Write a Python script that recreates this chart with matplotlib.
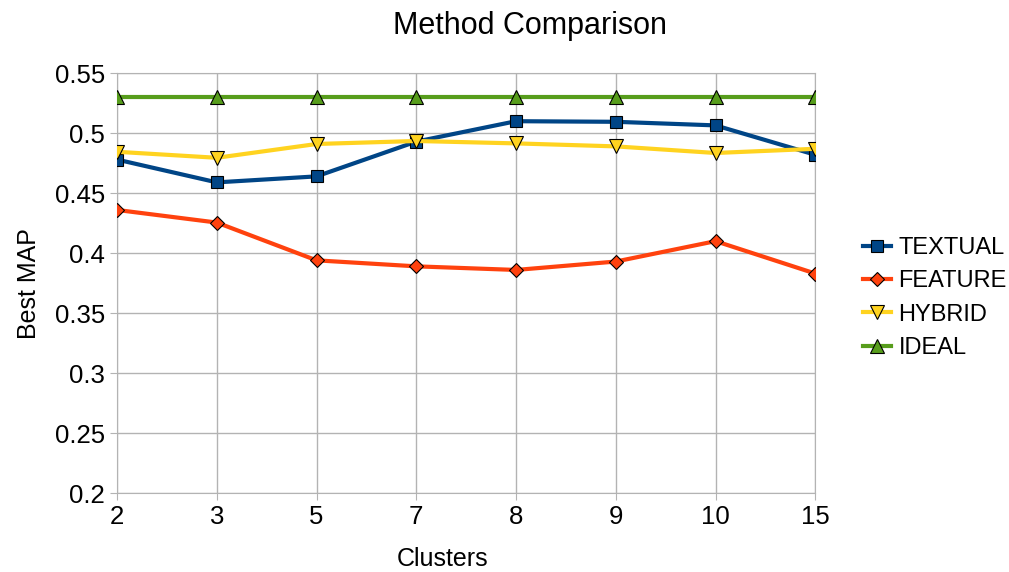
import matplotlib.pyplot as plt

plt.rcParams['font.family'] = ['Liberation Sans', 'DejaVu Sans']

# Data
clusters = ['2', '3', '5', '7', '8', '9', '10', '15']
textual = [0.478, 0.459, 0.464, 0.493, 0.510, 0.5095, 0.5065, 0.482]
feature = [0.436, 0.4255, 0.394, 0.389, 0.386, 0.393, 0.410, 0.383]
hybrid = [0.4845, 0.4795, 0.491, 0.4935, 0.4915, 0.489, 0.4835, 0.487]
ideal = [0.53, 0.53, 0.53, 0.53, 0.53, 0.53, 0.53, 0.53]

x = list(range(len(clusters)))

fig = plt.figure(figsize=(10.09, 5.72), dpi=100)
ax = fig.add_axes([0.116, 0.138, 0.692, 0.734])

ax.plot(x, textual, color='#004586', lw=3, marker='s', ms=9, mec='black', mew=0.8, label='TEXTUAL', zorder=3)
ax.plot(x, feature, color='#ff420e', lw=3, marker='D', ms=7, mec='black', mew=0.8, label='FEATURE', zorder=3)
ax.plot(x, hybrid, color='#ffd320', lw=3, marker='v', ms=9.5, mec='black', mew=0.8, label='HYBRID', zorder=3)
ax.plot(x, ideal, color='#579d1c', lw=3, marker='^', ms=9.5, mec='black', mew=0.8, label='IDEAL', zorder=3)

ax.set_xlim(0, len(clusters) - 1)
ax.set_ylim(0.2, 0.55)
ax.set_xticks(x)
ax.set_xticklabels(clusters)
ax.set_yticks([0.2, 0.25, 0.3, 0.35, 0.4, 0.45, 0.5, 0.55])
ax.set_yticklabels(['0.2', '0.25', '0.3', '0.35', '0.4', '0.45', '0.5', '0.55'])

ax.grid(True, color='#b3b3b3', lw=1)
ax.set_axisbelow(True)
for s in ax.spines.values():
    s.set_color('#b3b3b3')
ax.tick_params(colors='#b3b3b3', labelcolor='black', labelsize=18.5, length=5)

# title is centred over the whole chart (plot + legend), not just the axes
fig.text(0.525, 0.955, 'Method Comparison', fontsize=22, ha='center', va='center')
ax.set_xlabel('Clusters', fontsize=18, va='center')
ax.xaxis.set_label_coords(0.466, -0.158)
ax.set_ylabel('Best MAP', fontsize=18, labelpad=10)

ax.legend(loc='center left', bbox_to_anchor=(1.055, 0.465), frameon=False, fontsize=17,
          handlelength=1.2, handletextpad=0.3, labelspacing=0.48, borderaxespad=0)

plt.savefig('out.png')
